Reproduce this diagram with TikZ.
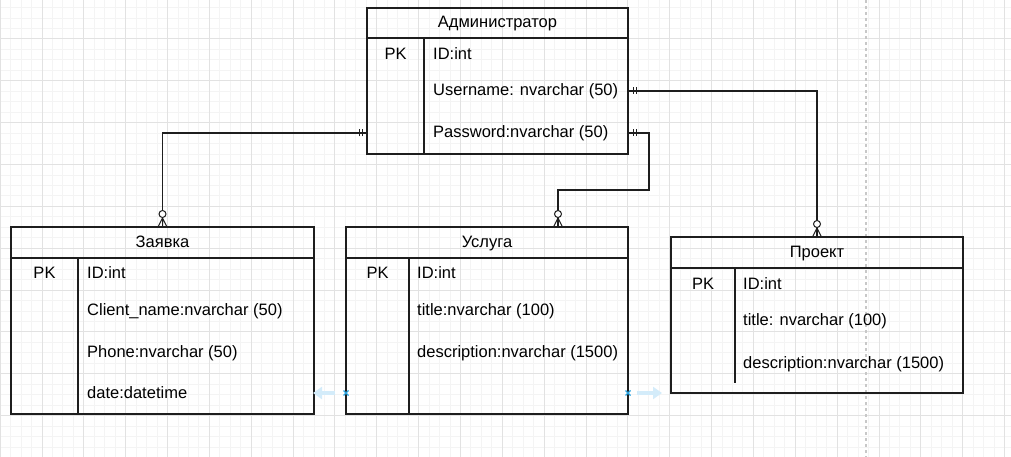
\documentclass[tikz,border=0pt]{standalone}
\usepackage{fontspec}
\setmainfont{Liberation Sans}
\usetikzlibrary{arrows.meta, positioning, calc}
\definecolor{erline}{RGB}{30,30,30}
\definecolor{gridminor}{RGB}{244,244,244}
\definecolor{gridmajor}{RGB}{226,226,226}
\definecolor{pagedash}{RGB}{200,200,200}
\definecolor{hoverblue}{RGB}{41,163,224}
\definecolor{hoverfade}{RGB}{212,236,250}
\tikzset{
  mandone/.pic={\draw[erline, line width=1pt] (5,-3.5) -- (5,3.5) (8,-3.5) -- (8,3.5);},
  zeromany/.pic={\draw[erline, line width=1pt] (-4.5,0) -- (0,-9) -- (4.5,0) (0,0) -- (0,-9);
                 \draw[erline, line width=1pt, fill=white] (0,-13) circle (3.5pt);}
}

\begin{document}
\begin{tikzpicture}[x=1pt, y=-1pt, node distance=0pt,
    erfont/.style={font=\fontsize{16.5}{19}\selectfont, text height=1.0em, text depth=0em},
    tblhead/.style={draw=erline, line width=1.2pt, anchor=north west, inner sep=0pt, outer sep=0pt, erfont},
    tblbody/.style={draw=erline, line width=1.2pt, inner sep=0pt, outer sep=0pt},
    divider/.style={draw=erline, line width=1.2pt},
    field/.style={anchor=west, inner sep=0pt, erfont},
    pk/.style={inner sep=0pt, erfont},
    rel/.style={draw=erline, line width=1.2pt}]
  \useasboundingbox (0,0) rectangle (1011,457);
  \fill[white] (0,0) rectangle (1011,457);
  % background grid
  \foreach \k in {-4,...,92}
    \draw[gridminor, line width=1pt] ({42+10.4625*\k},0) -- ({42+10.4625*\k},457);
  \foreach \k in {-3,...,39}
    \draw[gridminor, line width=1pt] (0,{39+10.4625*\k}) -- (1011,{39+10.4625*\k});
  \foreach \k in {-1,...,23}
    \draw[gridmajor, line width=1pt] ({42+41.85*\k},0) -- ({42+41.85*\k},457);
  \foreach \k in {-1,...,10}
    \draw[gridmajor, line width=1pt] (0,{39+41.85*\k}) -- (1011,{39+41.85*\k});
  \draw[pagedash, line width=1.5pt, dash pattern=on 3pt off 3pt] (866,0) -- (866,457);

  % Администратор
  \node[tblhead, minimum width=261pt, minimum height=30pt] (admin) at (367,8) {Администратор};
  \node[tblbody, minimum width=261pt, minimum height=116pt, below=of admin] (adminBody) {};
  \draw[divider] ([xshift=57pt]adminBody.north west) -- ([xshift=57pt]adminBody.south west);
  \node[pk] (adminPk) at (395.5,55) {PK};
  \node[field] (adminId) at (433,55) {ID:int};
  \node[field] (adminUser) at (433,91) {Username: nvarchar (50)};
  \node[field] (adminPwd) at (433,133) {Password:nvarchar (50)};

  % Заявка
  \node[tblhead, minimum width=303pt, minimum height=31pt] (req) at (11,227) {Заявка};
  \node[tblbody, minimum width=303pt, minimum height=156pt, below=of req] (reqBody) {};
  \draw[divider] ([xshift=67pt]reqBody.north west) -- ([xshift=67pt]reqBody.south west);
  \node[pk] (reqPk) at (44.5,273) {PK};
  \node[field] (reqId) at (87,273) {ID:int};
  \node[field] (reqClient) at (87,310) {Client\_name:nvarchar (50)};
  \node[field] (reqPhone) at (87,352) {Phone:nvarchar (50)};
  \node[field] (reqDate) at (87,393) {date:datetime};

  % Услуга
  \node[tblhead, minimum width=282pt, minimum height=31pt] (serv) at (346,227) {Услуга};
  \node[tblbody, minimum width=282pt, minimum height=156pt, below=of serv] (servBody) {};
  \draw[divider] ([xshift=63pt]servBody.north west) -- ([xshift=63pt]servBody.south west);
  \node[pk] (servPk) at (377.5,273) {PK};
  \node[field] (servId) at (417,273) {ID:int};
  \node[field] (servTitle) at (417,310) {title:nvarchar (100)};
  \node[field] (servDescr) at (417,352) {description:nvarchar (1500)};

  % Проект
  \node[tblhead, minimum width=292pt, minimum height=31pt] (proj) at (671,237) {Проект};
  \node[tblbody, minimum width=292pt, minimum height=125pt, below=of proj] (projBody) {};
  \draw[divider] ([xshift=64pt]projBody.north west) -- ++(0,115);
  \node[pk] (projPk) at (703,284) {PK};
  \node[field] (projId) at (743,284) {ID:int};
  \node[field] (projTitle) at (743,320) {title: nvarchar (100)};
  \node[field] (projDescr) at (743,363) {description:nvarchar (1500)};

  % relations
  \draw[rel] (adminBody.west |- adminPwd) -| (req.north);
  \draw[rel] (adminBody.east |- adminPwd) -| ++(21,57) -| ([xshift=71pt]serv.north);
  \draw[rel] (adminBody.east |- adminUser) -| (proj.north);
  \pic[rotate=180] at (adminBody.west |- adminPwd) {mandone};
  \pic at (adminBody.east |- adminPwd) {mandone};
  \pic at (adminBody.east |- adminUser) {mandone};
  \pic at (req.north) {zeromany};
  \pic at ([xshift=71pt]serv.north) {zeromany};
  \pic at (proj.north) {zeromany};

  % hover hints
  \draw[hoverfade, line width=4pt, -{Triangle[width=12pt, length=9pt]}]
    ($(servBody.west |- reqDate)+(-11,0)$) -- ++(-22,0);
  \draw[hoverfade, line width=4pt, -{Triangle[width=12pt, length=9pt]}]
    ($(servBody.east |- reqDate)+(9,0)$) -- ++(25,0);
  \foreach \c in {servBody.west, servBody.east}
    \draw[hoverblue, line width=1.2pt]
      ($(\c |- reqDate)+(-2.5,-2.5)$) -- ++(5,5) ($(\c |- reqDate)+(-2.5,2.5)$) -- ++(5,-5);
\end{tikzpicture}
\end{document}
